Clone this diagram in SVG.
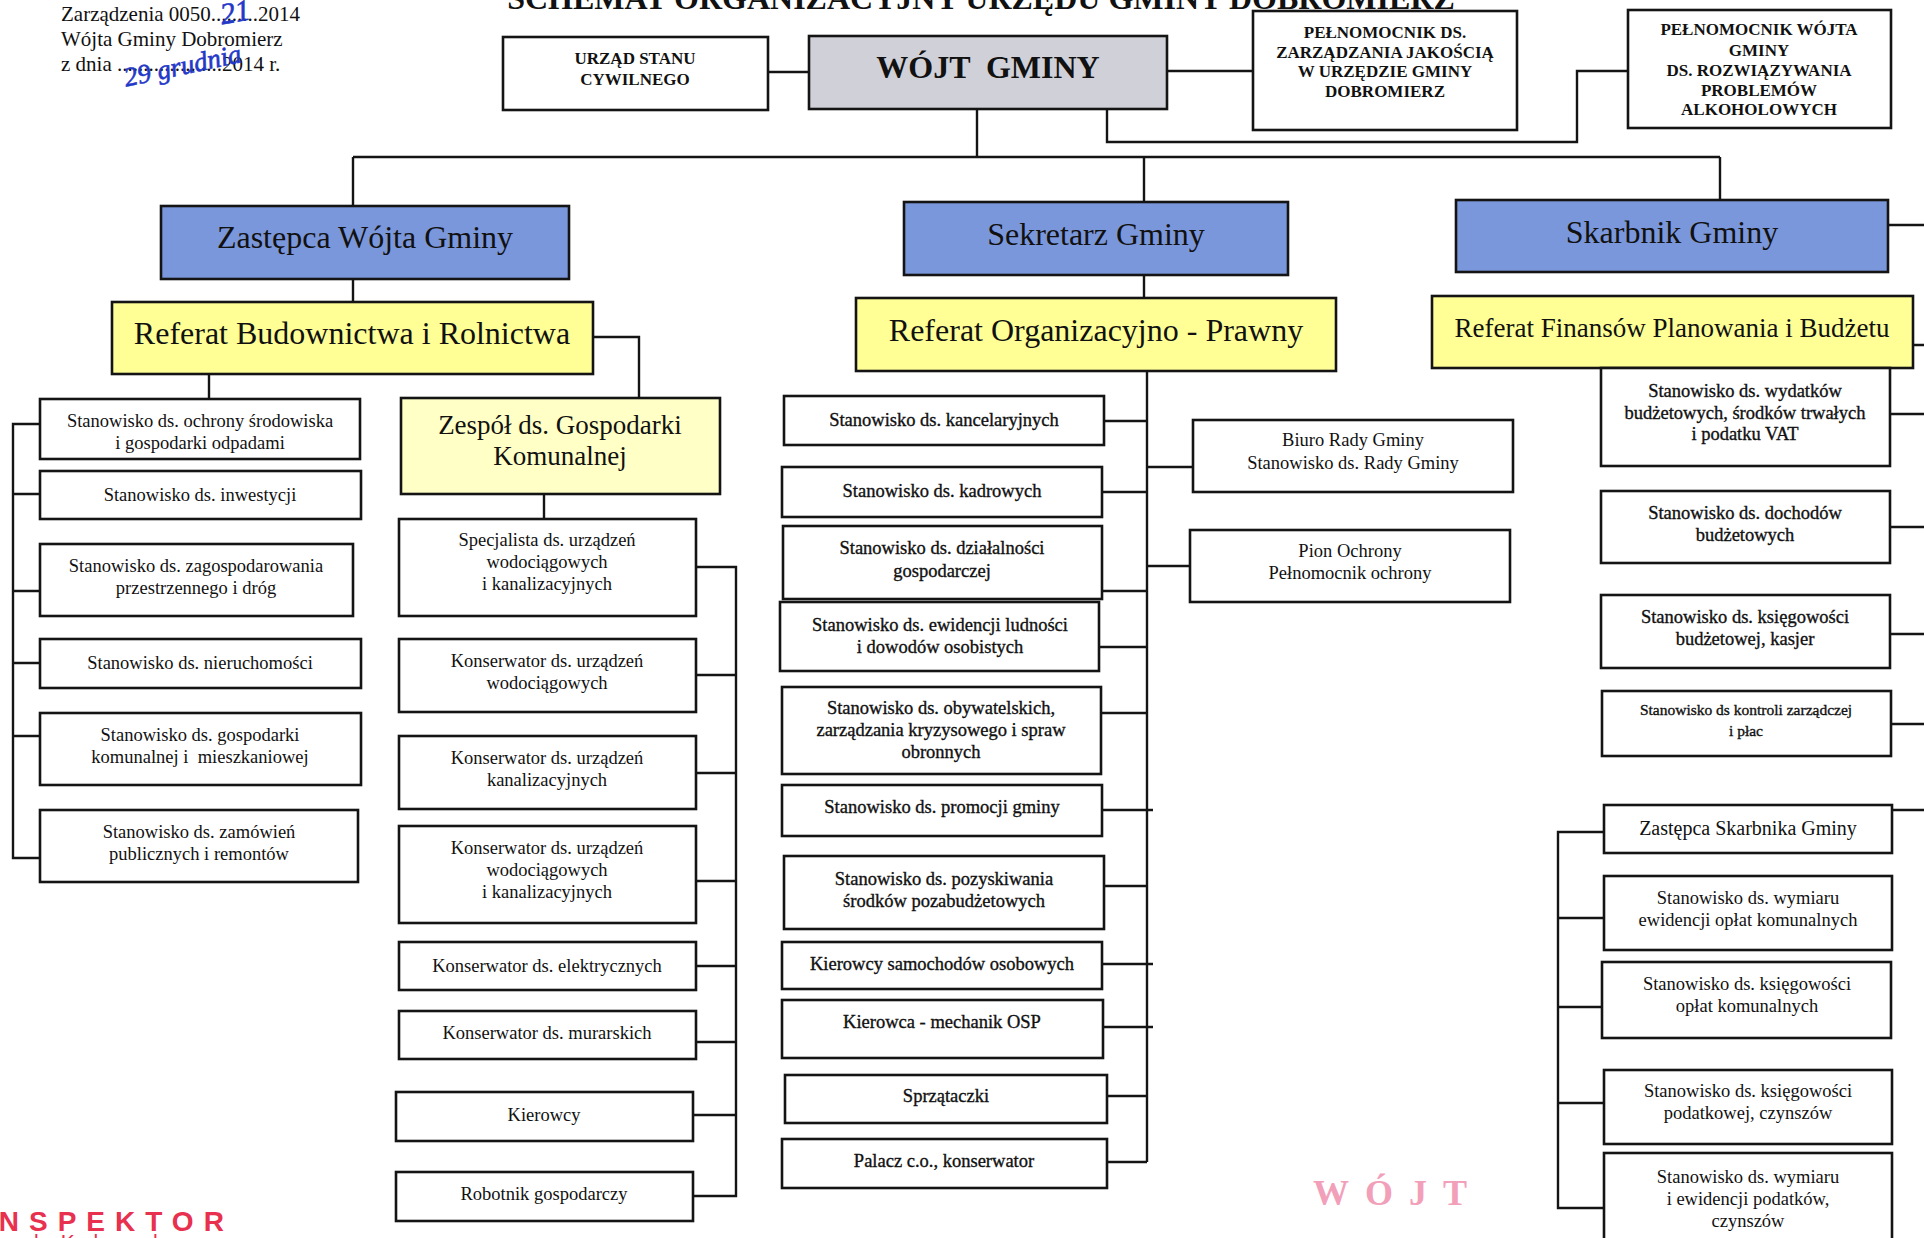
<svg xmlns="http://www.w3.org/2000/svg" width="1924" height="1238" viewBox="0 0 1924 1238">
<style>
.bx{fill:#fff;stroke:#141414;stroke-width:2.6}
.gray{fill:#d0d0d8}
.blue{fill:#7b97db}
.yel{fill:#ffff96}
.yel2{fill:#ffffc6}
.ln{fill:none;stroke:#141414;stroke-width:2.4}
text{font-family:"Liberation Serif","Times New Roman",serif;fill:#111;text-anchor:middle}
.s{font-size:18.5px}
.sm{font-size:15.5px}
.hb{font-size:17px;font-weight:bold}
.big{font-size:32px}
.mid{font-size:27px}
.hdr{font-size:21px;text-anchor:start}
.hand{font-family:"Liberation Serif",serif;font-style:italic;fill:#2438c8;stroke:#2438c8;stroke-width:0.6;text-anchor:start}
.dk{stroke:#111;stroke-width:0.35}
</style>
<rect width="1924" height="1238" fill="#fff"/>

<g id="header">
<text x="981" y="9" style="font-size:32px;font-weight:bold">SCHEMAT ORGANIZACYJNY URZĘDU GMINY DOBROMIERZ</text>
<text class="hdr" x="61" y="21">Zarządzenia 0050.........2014</text>
<text class="hdr" x="61" y="46">Wójta Gminy Dobromierz</text>
<text class="hdr" x="61" y="71">z dnia ....................2014 r.</text>
<text class="hand" x="220" y="22" style="font-size:30px" transform="rotate(-10 235 12)">21</text>
<text class="hand" x="122" y="76" style="font-size:27px" transform="rotate(-12 175 62)">29 grudnia</text>
</g>

<g id="connectors">
<path class="ln" d="M768,72H809 M1167,71H1253 M1107,109V142H1577V71H1628 M977,109V157 M353,157H1720 M353,157V206 M1144,157V202 M1720,157V200 M1888,225H1924"/>
<path class="ln" d="M353,279V302 M1144,275V298 M1913,345H1924"/>
<path class="ln" d="M209,374V399 M593,337H639V398 M544,494V519"/>
<path class="ln" d="M40,424H13V858H40 M13,494H40 M13,591H40 M13,663H40 M13,736H40"/>
<path class="ln" d="M696,567H736V1196H693 M696,675H736 M696,773H736 M696,881H736 M696,966H736 M696,1042H736 M693,1115H736"/>
<path class="ln" d="M1147,371V1162 M1104,421H1147 M1102,492H1147 M1102,591H1147 M1099,647H1147 M1101,713H1147 M1102,810H1153 M1104,886H1147 M1102,964H1153 M1103,1027H1153 M1107,1096H1147 M1107,1162H1147 M1147,467H1193 M1147,566H1190"/>
<path class="ln" d="M1890,414H1924 M1890,527H1924 M1890,634H1924 M1891,724H1924 M1892,810H1924"/>
<path class="ln" d="M1604,832H1558V1208H1604 M1558,918H1604 M1558,1007H1602 M1558,1103H1604"/>
</g>

<g id="n-usc"><rect class="bx" x="503" y="37" width="265" height="73"/>
<text class="hb" x="635" y="64">URZĄD STANU</text><text class="hb" x="635" y="85">CYWILNEGO</text></g>
<g id="n-wojt"><rect class="bx gray" x="809" y="36" width="358" height="73"/>
<text x="988" y="78" style="font-size:32px;font-weight:bold;white-space:pre">WÓJT  GMINY</text></g>
<g id="n-pjak"><rect class="bx" x="1253" y="11" width="264" height="119"/>
<text class="hb" x="1385" y="38">PEŁNOMOCNIK DS.</text><text class="hb" x="1385" y="58">ZARZĄDZANIA JAKOŚCIĄ</text><text class="hb" x="1385" y="77">W URZĘDZIE GMINY</text><text class="hb" x="1385" y="97">DOBROMIERZ</text></g>
<g id="n-palk"><rect class="bx" x="1628" y="10" width="263" height="118"/>
<text class="hb" x="1759" y="35">PEŁNOMOCNIK WÓJTA</text><text class="hb" x="1759" y="56">GMINY</text><text class="hb" x="1759" y="76">DS. ROZWIĄZYWANIA</text><text class="hb" x="1759" y="96">PROBLEMÓW</text><text class="hb" x="1759" y="115">ALKOHOLOWYCH</text></g>

<g id="n-zast"><rect class="bx blue" x="161" y="206" width="408" height="73"/><text class="big" x="365" y="248">Zastępca Wójta Gminy</text></g>
<g id="n-sekr"><rect class="bx blue" x="904" y="202" width="384" height="73"/><text class="big" x="1096" y="245">Sekretarz Gminy</text></g>
<g id="n-skarb"><rect class="bx blue" x="1456" y="200" width="432" height="72"/><text class="big" x="1672" y="243">Skarbnik Gminy</text></g>

<g id="n-refbud"><rect class="bx yel" x="112" y="302" width="481" height="72"/><text class="big" x="352" y="344">Referat Budownictwa i Rolnictwa</text></g>
<g id="n-reforg"><rect class="bx yel" x="856" y="298" width="480" height="73"/><text class="big" x="1096" y="341">Referat Organizacyjno - Prawny</text></g>
<g id="n-reffin"><rect class="bx yel" x="1432" y="296" width="481" height="72"/><text class="mid" x="1672" y="337">Referat Finansów Planowania i Budżetu</text></g>
<g id="n-zespol"><rect class="bx yel2" x="401" y="398" width="319" height="96"/><text class="mid" x="560" y="434">Zespół ds. Gospodarki</text><text class="mid" x="560" y="465">Komunalnej</text></g>

<g id="n-b1"><rect class="bx" x="40" y="399" width="320" height="60"/><text class="s" x="200" y="427">Stanowisko ds. ochrony środowiska</text><text class="s" x="200" y="449">i gospodarki odpadami</text></g>
<g id="n-b2"><rect class="bx" x="40" y="471" width="321" height="48"/><text class="s" x="200" y="501">Stanowisko ds. inwestycji</text></g>
<g id="n-b3"><rect class="bx" x="40" y="544" width="313" height="72"/><text class="s" x="196" y="572">Stanowisko ds. zagospodarowania</text><text class="s" x="196" y="594">przestrzennego i dróg</text></g>
<g id="n-b4"><rect class="bx" x="40" y="639" width="321" height="49"/><text class="s" x="200" y="669">Stanowisko ds. nieruchomości</text></g>
<g id="n-b5"><rect class="bx" x="40" y="713" width="321" height="72"/><text class="s" x="200" y="741">Stanowisko ds. gospodarki</text><text class="s" x="200" y="763" style="white-space:pre">komunalnej i  mieszkaniowej</text></g>
<g id="n-b6"><rect class="bx" x="40" y="810" width="318" height="72"/><text class="s" x="199" y="838">Stanowisko ds. zamówień</text><text class="s" x="199" y="860">publicznych i remontów</text></g>

<g id="n-z1"><rect class="bx" x="399" y="519" width="297" height="97"/><text class="s" x="547" y="546">Specjalista ds. urządzeń</text><text class="s" x="547" y="568">wodociągowych</text><text class="s" x="547" y="590">i kanalizacyjnych</text></g>
<g id="n-z2"><rect class="bx" x="399" y="639" width="297" height="73"/><text class="s" x="547" y="667">Konserwator ds. urządzeń</text><text class="s" x="547" y="689">wodociągowych</text></g>
<g id="n-z3"><rect class="bx" x="399" y="736" width="297" height="73"/><text class="s" x="547" y="764">Konserwator ds. urządzeń</text><text class="s" x="547" y="786">kanalizacyjnych</text></g>
<g id="n-z4"><rect class="bx" x="399" y="826" width="297" height="97"/><text class="s" x="547" y="854">Konserwator ds. urządzeń</text><text class="s" x="547" y="876">wodociągowych</text><text class="s" x="547" y="898">i kanalizacyjnych</text></g>
<g id="n-z5"><rect class="bx" x="399" y="942" width="297" height="48"/><text class="s" x="547" y="972">Konserwator ds. elektrycznych</text></g>
<g id="n-z6"><rect class="bx" x="399" y="1011" width="297" height="48"/><text class="s" x="547" y="1039">Konserwator ds. murarskich</text></g>
<g id="n-z7"><rect class="bx" x="396" y="1092" width="297" height="49"/><text class="s" x="544" y="1121">Kierowcy</text></g>
<g id="n-z8"><rect class="bx" x="396" y="1172" width="297" height="49"/><text class="s" x="544" y="1200">Robotnik gospodarczy</text></g>

<g id="n-o1"><rect class="bx" x="784" y="396" width="320" height="49"/><text class="s dk" x="944" y="426">Stanowisko ds. kancelaryjnych</text></g>
<g id="n-o2"><rect class="bx" x="782" y="467" width="320" height="50"/><text class="s dk" x="942" y="497">Stanowisko ds. kadrowych</text></g>
<g id="n-o3"><rect class="bx" x="783" y="526" width="319" height="73"/><text class="s dk" x="942" y="554">Stanowisko ds. działalności</text><text class="s dk" x="942" y="577">gospodarczej</text></g>
<g id="n-o4"><rect class="bx" x="780" y="602" width="319" height="69"/><text class="s dk" x="940" y="631">Stanowisko ds. ewidencji ludności</text><text class="s dk" x="940" y="653">i dowodów osobistych</text></g>
<g id="n-o5"><rect class="bx" x="782" y="687" width="319" height="87"/><text class="s dk" x="941" y="714">Stanowisko ds. obywatelskich,</text><text class="s dk" x="941" y="736">zarządzania kryzysowego i spraw</text><text class="s dk" x="941" y="758">obronnych</text></g>
<g id="n-o6"><rect class="bx" x="782" y="785" width="320" height="51"/><text class="s dk" x="942" y="813">Stanowisko ds. promocji gminy</text></g>
<g id="n-o7"><rect class="bx" x="784" y="856" width="320" height="73"/><text class="s dk" x="944" y="885">Stanowisko ds. pozyskiwania</text><text class="s dk" x="944" y="907">środków pozabudżetowych</text></g>
<g id="n-o8"><rect class="bx" x="782" y="942" width="320" height="47"/><text class="s dk" x="942" y="970">Kierowcy samochodów osobowych</text></g>
<g id="n-o9"><rect class="bx" x="782" y="1000" width="321" height="58"/><text class="s dk" x="942" y="1028">Kierowca - mechanik OSP</text></g>
<g id="n-o10"><rect class="bx" x="785" y="1075" width="322" height="48"/><text class="s dk" x="946" y="1102">Sprzątaczki</text></g>
<g id="n-o11"><rect class="bx" x="782" y="1139" width="325" height="49"/><text class="s dk" x="944" y="1167">Palacz c.o., konserwator</text></g>
<g id="n-biuro"><rect class="bx" x="1193" y="420" width="320" height="72"/><text class="s" x="1353" y="446">Biuro Rady Gminy</text><text class="s" x="1353" y="469">Stanowisko ds. Rady Gminy</text></g>
<g id="n-pion"><rect class="bx" x="1190" y="530" width="320" height="72"/><text class="s" x="1350" y="557">Pion Ochrony</text><text class="s" x="1350" y="579">Pełnomocnik ochrony</text></g>

<g id="n-f1"><rect class="bx" x="1601" y="368" width="289" height="98"/><text class="s dk" x="1745" y="397">Stanowisko ds. wydatków</text><text class="s dk" x="1745" y="419">budżetowych, środków trwałych</text><text class="s dk" x="1745" y="440">i podatku VAT</text></g>
<g id="n-f2"><rect class="bx" x="1601" y="491" width="289" height="72"/><text class="s dk" x="1745" y="519">Stanowisko ds. dochodów</text><text class="s dk" x="1745" y="541">budżetowych</text></g>
<g id="n-f3"><rect class="bx" x="1601" y="595" width="289" height="73"/><text class="s dk" x="1745" y="623">Stanowisko ds. księgowości</text><text class="s dk" x="1745" y="645">budżetowej, kasjer</text></g>
<g id="n-f4"><rect class="bx" x="1602" y="691" width="289" height="65"/><text class="sm dk" x="1746" y="715">Stanowisko ds kontroli zarządczej</text><text class="sm dk" x="1746" y="736">i płac</text></g>
<g id="n-f5"><rect class="bx" x="1604" y="805" width="288" height="48"/><text x="1748" y="835" style="font-size:20px">Zastępca Skarbnika Gminy</text></g>
<g id="n-f6"><rect class="bx" x="1604" y="876" width="288" height="74"/><text class="s" x="1748" y="904">Stanowisko ds. wymiaru</text><text class="s" x="1748" y="926">ewidencji opłat komunalnych</text></g>
<g id="n-f7"><rect class="bx" x="1602" y="962" width="289" height="76"/><text class="s" x="1747" y="990">Stanowisko ds. księgowości</text><text class="s" x="1747" y="1012">opłat komunalnych</text></g>
<g id="n-f8"><rect class="bx" x="1604" y="1070" width="288" height="74"/><text class="s" x="1748" y="1097">Stanowisko ds. księgowości</text><text class="s" x="1748" y="1119">podatkowej, czynszów</text></g>
<g id="n-f9"><rect class="bx" x="1604" y="1153" width="288" height="92"/><text class="s" x="1748" y="1183">Stanowisko ds. wymiaru</text><text class="s" x="1748" y="1205">i ewidencji podatków,</text><text class="s" x="1748" y="1227">czynszów</text></g>

<g id="stamps">
<text x="-19" y="1231" style="font-family:'Liberation Sans',Arial,sans-serif;font-size:28px;font-weight:bold;letter-spacing:10px;fill:#e8304f;text-anchor:start">INSPEKTOR</text>
<text x="27" y="1249" style="font-family:'Liberation Sans',Arial,sans-serif;font-size:21px;fill:#e8304f;text-anchor:start">ds. Kadrowych</text>
<text x="1313" y="1205" style="font-size:36px;font-weight:bold;letter-spacing:16px;fill:#f2a0ba;text-anchor:start">WÓJT</text>
</g>
</svg>
